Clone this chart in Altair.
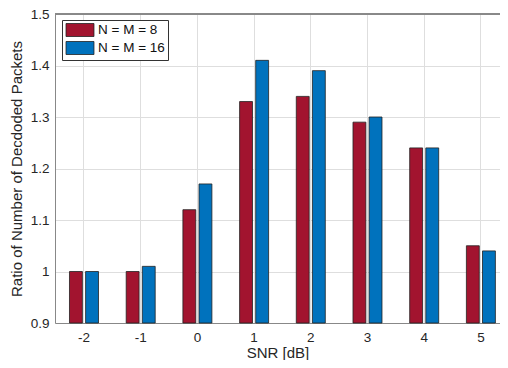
import altair as alt
import pandas as pd

snr = ["-2", "-1", "0", "1", "2", "3", "4", "5"]
series_names = ["N = M = 8", "N = M = 16"]
ratio_n8 = [1.00, 1.00, 1.12, 1.33, 1.34, 1.29, 1.24, 1.05]
ratio_n16 = [1.00, 1.01, 1.17, 1.41, 1.39, 1.30, 1.24, 1.04]
colors = ["#A2142F", "#0072BD"]
y_ticks = [0.9, 1.0, 1.1, 1.2, 1.3, 1.4, 1.5]
y_min, y_max = 0.9, 1.5

rows = []
for s, a, b in zip(snr, ratio_n8, ratio_n16):
    rows.append({"snr": s, "series": series_names[0], "ratio": a})
    rows.append({"snr": s, "series": series_names[1], "ratio": b})
df = pd.DataFrame(rows)

font = "Liberation Sans"

yscale = alt.Scale(domain=[y_min, y_max], zero=False, nice=False)

bars = alt.Chart(df).mark_bar(stroke="#222222", strokeWidth=0.8).encode(
    x=alt.X("snr:N", sort=snr, title="SNR [dB]",
            scale=alt.Scale(paddingInner=0.4885, paddingOuter=0.1684, align=0.759),
            axis=alt.Axis(labelAngle=0, bandPosition=0.5, grid=True, ticks=False,
                          labelPadding=7, titlePadding=2)),
    xOffset=alt.XOffset("series:N", sort=series_names,
                        scale=alt.Scale(paddingInner=0.2, paddingOuter=0)),
    y=alt.Y("ratio:Q", title="Ratio of Number of Decdoded Packets", scale=yscale,
            axis=alt.Axis(values=y_ticks, format="~g", ticks=False, labelPadding=6,
                          titlePadding=6)),
    y2=alt.datum(y_min),
    color=alt.Color("series:N", sort=series_names,
                    scale=alt.Scale(domain=series_names, range=colors),
                    legend=alt.Legend(title=None, orient="none", legendX=7, legendY=6,
                                      symbolType="M-2.15,-1H2.15V1H-2.15Z", symbolSize=169,
                                      symbolOffset=8,
                                      symbolStrokeColor="#222222", symbolStrokeWidth=0.8,
                                      symbolOpacity=1,
                                      strokeColor="#333333", fillColor="white",
                                      padding=3, rowPadding=0, labelOffset=11,
                                      labelFont=font, labelFontSize=13.5,
                                      labelColor="#111111")),
)

top_border = alt.Chart(df).mark_rule(color="#888888", strokeWidth=1).encode(
    y=alt.datum(y_max, scale=yscale),
)

chart = alt.layer(bars, top_border).properties(
    width=445, height=309,
    autosize=alt.AutoSizeParams(type="none"),
    padding={"left": 47, "top": 6, "right": 0, "bottom": 37},
).configure_view(
    stroke=None
).configure_axis(
    labelFont=font, titleFont=font, labelFontSize=13.5, titleFontSize=15,
    labelColor="#262626", titleColor="#262626", titleFontWeight="normal",
    domainColor="#888888", gridColor="#dedede", gridWidth=1,
)

chart.save("out.html", embed_options={"renderer": "svg", "actions": False})
